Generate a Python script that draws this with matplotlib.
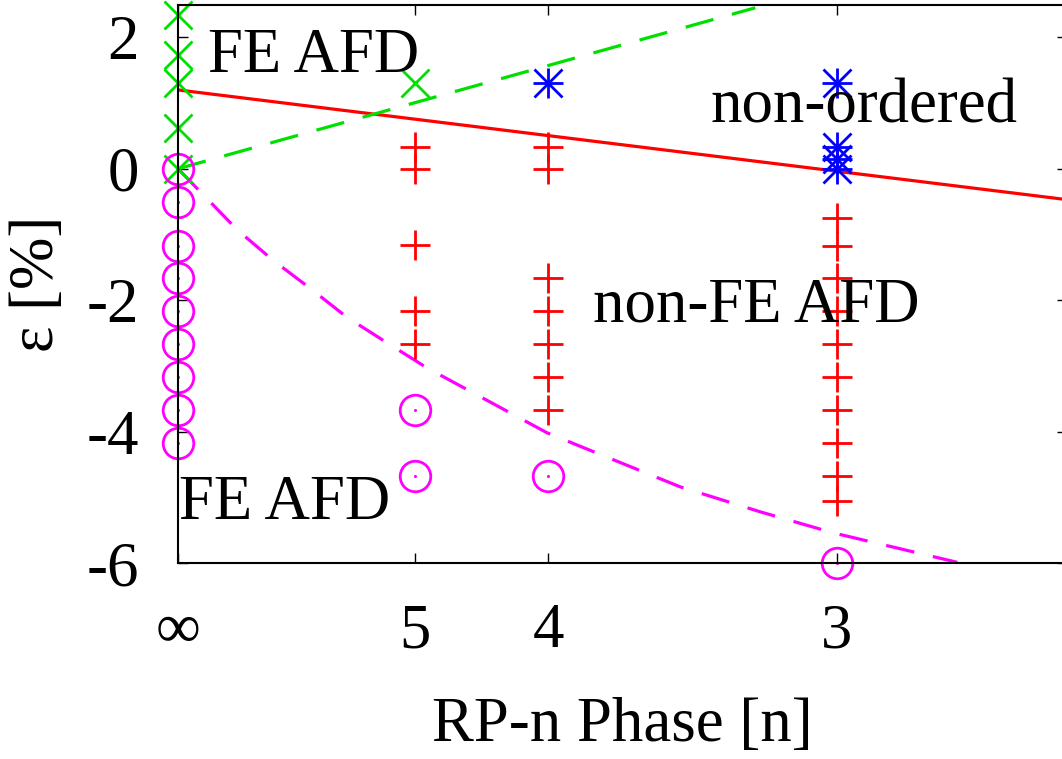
import numpy as np
import matplotlib
matplotlib.use("Agg")
import matplotlib.pyplot as plt

plt.rcParams['font.family'] = ['Liberation Serif', 'DejaVu Serif']
plt.rcParams['axes.unicode_minus'] = False

# x axis is 1/n^2, n = inf sits at zero
n_ticks = [np.inf, 5, 4, 3]
tick_labels = ['\u221e', '5', '4', '3']

# FE AFD (green crosses)
fe_n = [np.inf] * 5 + [5]
fe_eps = [2.34, 1.73, 1.31, 0.62, 0.0, 1.3]

# non-ordered (blue asterisks)
no_n = [4, 3, 3, 3, 3]
no_eps = [1.3, 1.3, 0.33, 0.15, 0.0]

# non-FE AFD (red plus)
nfe_n = [5] * 5 + [4] * 7 + [3] * 10
nfe_eps = [0.33, 0.0, -1.16, -2.17, -2.67,
           0.33, 0.0, -1.67, -2.17, -2.67, -3.17, -3.67,
           -0.75, -1.17, -1.67, -2.17, -2.67, -3.17, -3.67, -4.17, -4.67, -5.05]

# FE AFD, compressive side (magenta circles)
cm_n = [np.inf] * 9 + [5, 5, 4, 3]
cm_eps = [0.0, -0.5, -1.17, -1.67, -2.17, -2.67, -3.17, -3.67, -4.17,
          -3.67, -4.67, -4.67, -6.0]

# phase boundaries
red_bx = [0.0, 0.15]
red_by = [1.2, -0.47]
green_bx = [0.0, 0.0974]
green_by = [0.0, 2.45]
mag_bx = [0.0, 0.0100, 0.0160, 0.0223, 0.0285, 0.0353, 0.0420,
          0.0623, 0.0847, 0.0982, 0.1105, 0.1315]
mag_by = [0.0, -0.93, -1.39, -1.82, -2.26, -2.65, -3.03,
          -4.02, -4.84, -5.22, -5.54, -5.99]


def inv_sq(n):
    return 1.0 / np.asarray(n, dtype=float) ** 2


fig = plt.figure(figsize=(10.62, 7.59), dpi=100)
ax = fig.add_axes([178 / 1062, 196 / 759, 889 / 1062, 558.5 / 759])

lw = 2.3
ax.plot(red_bx, red_by, color='#ff0000', lw=lw)
ax.plot(green_bx, green_by, color='#00e000', lw=lw, dashes=(9, 6))
ax.plot(mag_bx, mag_by, color='#ff00ff', lw=lw, dashes=(9, 6))

ms = 20
mew = 2.0
ax.plot(inv_sq(fe_n), fe_eps, 'x', color='#00e000', ms=ms, mew=mew, clip_on=False)
ax.plot(inv_sq(nfe_n), nfe_eps, '+', color='#ff0000', ms=ms + 1, mew=mew, clip_on=False)
ax.plot(inv_sq(no_n), no_eps, '+', color='#0000ff', ms=ms + 1, mew=mew, clip_on=False)
ax.plot(inv_sq(no_n), no_eps, 'x', color='#0000ff', ms=ms, mew=mew, clip_on=False)
ax.plot(inv_sq(cm_n), cm_eps, 'o', mfc='none', mec='#ff00ff', ms=ms + 2, mew=mew, clip_on=False)
ax.plot(inv_sq(cm_n), cm_eps, 'o', color='#ff00ff', ms=2.2, mew=0, clip_on=False)

fs = 45.3
ax.text(0.0051, 1.47, 'FE AFD', fontsize=fs, va='baseline', ha='left')
ax.text(0.0898, 0.70, 'non-ordered', fontsize=fs, va='baseline', ha='left')
ax.text(0.0700, -2.33, 'non-FE AFD', fontsize=fs, va='baseline', ha='left')
ax.text(0.0002, -5.33, 'FE AFD', fontsize=fs, va='baseline', ha='left')

ax.set_xlim(0, 0.15)
ax.set_ylim(-6, 2.5)
ax.set_xticks(inv_sq(n_ticks))
ax.set_xticklabels(tick_labels)
ax.set_yticks([-6, -4, -2, 0, 2])
ax.tick_params(direction='in', length=7, width=1, labelsize=fs,
               top=True, right=True)
ax.tick_params(axis='x', pad=29)
ax.tick_params(axis='y', pad=28)
for s in ax.spines.values():
    s.set_linewidth(1.5)

ax.set_xlabel('RP-n Phase [n]', fontsize=fs, labelpad=26)
ax.set_ylabel('\u03b5 [%]', fontsize=fs, labelpad=14)

fig.savefig('out.png', dpi=100)
